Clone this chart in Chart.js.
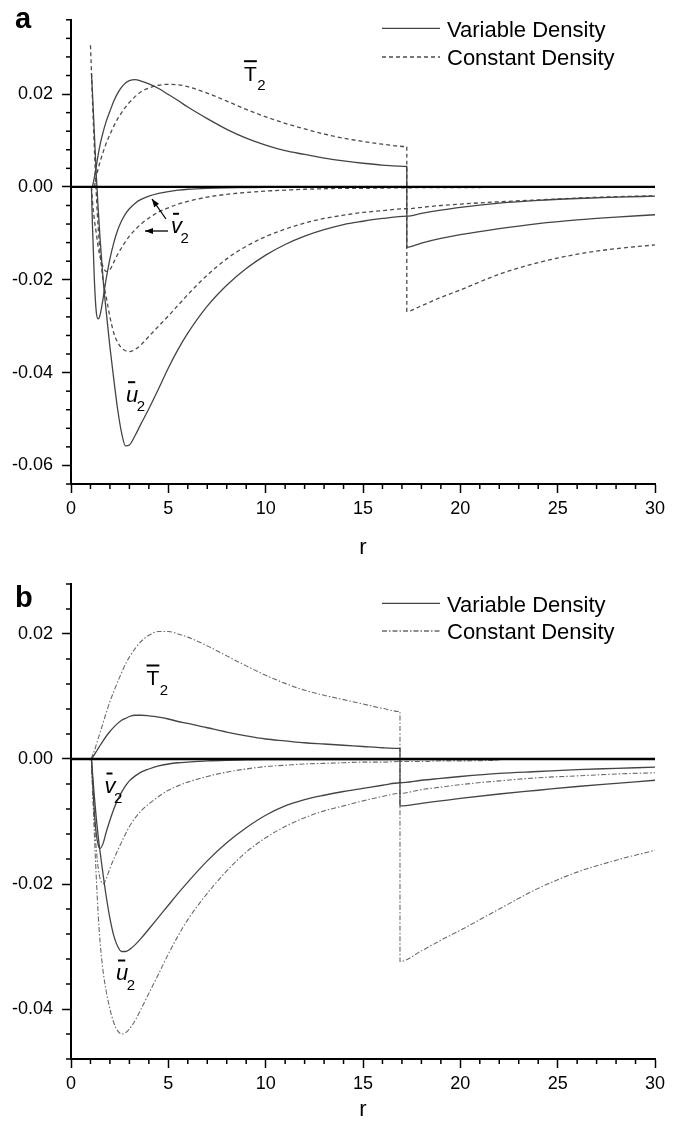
<!DOCTYPE html>
<html>
<head>
<meta charset="utf-8">
<title>Second-order profiles</title>
<style>
  body { margin: 0; background: #fff; }
  canvas { position: absolute; left: 0; }
  #panelA { top: 0; }
  #panelB { top: 560px; }
</style>
<script src="https://cdn.jsdelivr.net/npm/chart.js"></script>
</head>
<body>
<canvas id="panelA" width="680" height="560"></canvas>
<canvas id="panelB" width="680" height="566"></canvas>
<script>
// radial stations, the repeated value is the shock position
var rA = [1.0, 1.05, 1.1, 1.2, 1.3, 1.4, 1.5, 1.65, 1.8, 2.0, 2.2, 2.4, 2.6, 2.8, 3.0, 3.3, 3.6, 4.0, 4.5, 5.0,
          5.5, 6, 7, 8, 9, 10, 11, 12, 13, 14, 15, 16, 17.25, 17.25, 18, 19, 20, 22, 24, 26, 28, 30];
var rB = [1.0, 1.05, 1.1, 1.2, 1.3, 1.4, 1.5, 1.65, 1.8, 2.0, 2.2, 2.4, 2.6, 2.8, 3.0, 3.3, 3.6, 4.0, 4.5, 5.0,
          5.5, 6, 7, 8, 9, 10, 11, 12, 13, 14, 15, 16, 16.9, 16.9, 18, 19, 20, 22, 24, 26, 28, 30];

// panel a - variable density (solid)
var aU2Var = [null, 0.0245, 0.0205, 0.0115, 0.0025, -0.005, -0.0115, -0.020, -0.0265, -0.0345, -0.0415, -0.048, -0.053, -0.0558, -0.0556, -0.0535, -0.051, -0.0478, -0.0435, -0.039,
              -0.035, -0.0315, -0.0257, -0.0212, -0.0176, -0.0147, -0.0124, -0.0106, -0.0092, -0.0081, -0.0074, -0.0068, -0.0063, -0.0063, -0.0057, -0.005, -0.0044, -0.0035, -0.0029, -0.0025, -0.0022, -0.002];
var aT2Var = [null, null, 0.0, 0.002, 0.0045, 0.007, 0.0092, 0.0118, 0.014, 0.0163, 0.0185, 0.0202, 0.0215, 0.0224, 0.0229, 0.0231, 0.0228, 0.0222, 0.0212, 0.0199,
              0.0186, 0.0172, 0.0147, 0.0124, 0.0105, 0.009, 0.0078, 0.007, 0.0062, 0.0056, 0.0051, 0.0047, 0.0044, -0.013, -0.0121, -0.0111, -0.0103, -0.009, -0.0079, -0.0071, -0.0065, -0.006];
var aV2Var = [null, 0.0, -0.008, -0.02, -0.027, -0.0284, -0.0275, -0.024, -0.02, -0.0155, -0.012, -0.0093, -0.0073, -0.0058, -0.0047, -0.0035, -0.0027, -0.002, -0.0014, -0.001,
              -0.0007, -0.0005, -0.0003, -0.0002, -0.00015, -0.0001, -0.0001, -0.0001, -0.0001, -0.0001, -0.0001, -0.0001, -0.0001, -0.0001, -0.0001, -0.0001, -0.0001, -0.0001, -0.0001, -0.0001, null, null];
// panel a - constant density (dashed)
var aU2Con = [0.0305, 0.025, 0.019, 0.0085, -0.0015, -0.009, -0.0145, -0.02, -0.0235, -0.028, -0.0315, -0.0335, -0.0347, -0.0353, -0.0355, -0.035, -0.034, -0.0322, -0.03, -0.0278,
              -0.0255, -0.0232, -0.019, -0.0155, -0.0128, -0.0107, -0.0091, -0.0078, -0.0068, -0.0061, -0.0055, -0.0051, -0.0047, -0.0047, -0.0044, -0.004, -0.0037, -0.0032, -0.0028, -0.0024, -0.0021, -0.0019];
var aT2Con = [null, null, null, 0.0, 0.0022, 0.004, 0.0055, 0.0075, 0.0093, 0.0113, 0.0131, 0.0147, 0.016, 0.0172, 0.0182, 0.0195, 0.0205, 0.0213, 0.0219, 0.0221,
              0.022, 0.0216, 0.0202, 0.0185, 0.0167, 0.0151, 0.0137, 0.0125, 0.0114, 0.0105, 0.0098, 0.0092, 0.0087, -0.0268, -0.0256, -0.0238, -0.0222, -0.0188, -0.0163, -0.0145, -0.0133, -0.0125];
var aV2Con = [null, 0.0, -0.003, -0.007, -0.01, -0.013, -0.0152, -0.0172, -0.0182, -0.0178, -0.0162, -0.0145, -0.0131, -0.0118, -0.0106, -0.0092, -0.008, -0.0067, -0.0054, -0.0045,
              -0.0037, -0.0031, -0.0022, -0.0016, -0.0012, -0.0009, -0.0007, -0.0005, -0.0004, -0.0003, -0.0003, -0.00025, -0.0002, -0.0002, -0.00015, -0.00015, -0.00015, -0.0001, -0.0001, null, null, null];

// panel b - variable density (solid)
var bU2Var = [null, 0.0, -0.002, -0.006, -0.0095, -0.0125, -0.015, -0.0185, -0.0218, -0.0255, -0.0283, -0.03, -0.0308, -0.0308, -0.0305, -0.0297, -0.0287, -0.0272, -0.0253, -0.0234,
              -0.0215, -0.0197, -0.0163, -0.0134, -0.011, -0.009, -0.0075, -0.0065, -0.0058, -0.0052, -0.0047, -0.0042, -0.0038, -0.0038, -0.0034, -0.0031, -0.0028, -0.0023, -0.002, -0.0017, -0.0015, -0.0013];
var bT2Var = [null, 0.0, 0.0002, 0.0007, 0.0012, 0.0017, 0.0022, 0.0029, 0.0036, 0.0044, 0.0051, 0.0057, 0.0062, 0.0065, 0.0068, 0.007, 0.007, 0.0069, 0.0067, 0.0064,
              0.006, 0.0057, 0.005, 0.0043, 0.0037, 0.0032, 0.0029, 0.0026, 0.0024, 0.0022, 0.002, 0.0018, 0.0017, -0.0075, -0.0071, -0.0067, -0.0063, -0.0056, -0.005, -0.0044, -0.0039, -0.0034];
var bV2Var = [null, 0.0, -0.003, -0.0085, -0.012, -0.0138, -0.0143, -0.0135, -0.0118, -0.0098, -0.008, -0.0065, -0.0053, -0.0043, -0.0035, -0.0027, -0.0021, -0.0016, -0.0011, -0.0008,
              -0.0006, -0.0005, -0.0003, -0.0002, -0.00015, -0.0001, -0.0001, -0.0001, -0.0001, -0.0001, -0.0001, -0.0001, -0.0001, -0.0001, -0.0001, -0.0001, -0.0001, -0.0001, null, null, null, null];
// panel b - constant density (dash-dot)
var bU2Con = [null, 0.0, -0.004, -0.012, -0.019, -0.025, -0.0295, -0.034, -0.037, -0.04, -0.0422, -0.0435, -0.044, -0.0438, -0.0432, -0.0418, -0.04, -0.0375, -0.0344, -0.0312,
              -0.0283, -0.0257, -0.0215, -0.0179, -0.0149, -0.0126, -0.0108, -0.0094, -0.0083, -0.0075, -0.0067, -0.006, -0.0055, -0.0055, -0.0049, -0.0045, -0.0041, -0.0035, -0.003, -0.0027, -0.0024, -0.0022];
var bT2Con = [null, 0.0, 0.0006, 0.0013, 0.0023, 0.0033, 0.0043, 0.0058, 0.0073, 0.0092, 0.0108, 0.0124, 0.0138, 0.0152, 0.0163, 0.0177, 0.0188, 0.0198, 0.0204, 0.0204,
              0.02, 0.0195, 0.0181, 0.0165, 0.0149, 0.0134, 0.0121, 0.011, 0.0102, 0.0095, 0.0088, 0.0081, 0.0076, -0.0324, -0.0307, -0.029, -0.0274, -0.024, -0.0207, -0.0181, -0.0162, -0.0146];
var bV2Con = [null, 0.0, -0.004, -0.01, -0.0145, -0.0175, -0.0192, -0.02, -0.0192, -0.0175, -0.016, -0.0146, -0.0133, -0.012, -0.0108, -0.0094, -0.0083, -0.0072, -0.006, -0.005,
              -0.0043, -0.0037, -0.0028, -0.0021, -0.0016, -0.0012, -0.001, -0.0008, -0.0007, -0.0006, -0.0005, -0.0005, -0.0004, -0.0004, -0.0004, -0.0003, -0.0003, -0.0002, null, null, null, null];

var legendLabels = ['Variable Density', 'Constant Density'];

var FONT = '"Liberation Sans", Arial, Helvetica, sans-serif';
var DASH_A = [4, 3];
var DASH_B = [5, 2, 1.5, 2];

function series(rs, vals) {
    return rs.map(function (r, i) { return { x: r, y: vals[i] }; })
             .filter(function (p) { return p.y !== null; });
}

function curve(rs, vals, color, width, dash) {
    return {
        data: series(rs, vals),
        borderColor: color,
        borderWidth: width,
        borderDash: dash,
        pointRadius: 0,
        fill: false,
        cubicInterpolationMode: 'monotone'
    };
}

function zeroLine() {
    return { data: [{ x: 0, y: 0 }, { x: 30, y: 0 }], borderColor: '#000', borderWidth: 2.4, pointRadius: 0 };
}

function isMajorY(v) {
    return Math.abs(v / 0.02 - Math.round(v / 0.02)) < 1e-6;
}

function axes(yMin, yMax, xHeight, titlePad) {
    return {
        x: {
            type: 'linear', min: 0, max: 30,
            ticks: {
                stepSize: 1, autoSkip: false, maxRotation: 0, padding: 5, color: '#000',
                font: { family: FONT, size: 18 },
                callback: function (v) { return v % 5 === 0 ? String(v) : ''; }
            },
            grid: {
                drawOnChartArea: false, tickLength: 9, tickWidth: 1.5,
                tickColor: function (c) { return c.tick && c.tick.value % 5 === 0 ? '#000' : 'rgba(0,0,0,0)'; }
            },
            border: { color: '#000', width: 2 },
            title: { display: true, text: 'r', color: '#000', font: { family: FONT, size: 22, lineHeight: 1 }, padding: { top: 0, bottom: titlePad } },
            afterFit: function (s) { s.height = xHeight; }
        },
        y: {
            type: 'linear', min: yMin, max: yMax,
            ticks: {
                stepSize: 0.004, autoSkip: false, padding: 9, color: '#000',
                font: { family: FONT, size: 18 },
                callback: function (v) {
                    if (!isMajorY(v)) return '';
                    return Math.abs(v) < 1e-9 ? '0.00' : v.toFixed(2);
                }
            },
            grid: {
                drawOnChartArea: false, tickLength: 9, tickWidth: 1.5,
                tickColor: function (c) { return c.tick && isMajorY(c.tick.value) ? '#000' : 'rgba(0,0,0,0)'; }
            },
            border: { color: '#000', width: 2 },
            afterFit: function (s) { s.width = 71; }
        }
    };
}

// overbarred symbol with subscript 2
function symbol(ctx, s) {
    ctx.font = (s.italic ? 'italic ' : '') + s.size + 'px ' + FONT;
    ctx.textAlign = 'left';
    ctx.textBaseline = 'alphabetic';
    ctx.fillText(s.ch, s.x, s.base);
    var w = ctx.measureText(s.ch).width;
    ctx.lineWidth = 2;
    ctx.beginPath();
    if (s.italic) { ctx.moveTo(s.x + 2, s.base - 19.5); ctx.lineTo(s.x + w - 3, s.base - 19.5); }
    else { ctx.moveTo(s.x, s.base - 19.5); ctx.lineTo(s.x + w, s.base - 19.5); }
    ctx.stroke();
    ctx.font = '15px ' + FONT;
    ctx.fillText('2', s.x + w + (s.italic ? -1.5 : 0.5), s.base + 9.5);
}

function arrow(ctx, x0, y0, x1, y1) {
    var a = Math.atan2(y1 - y0, x1 - x0);
    ctx.lineWidth = 1.3;
    ctx.beginPath(); ctx.moveTo(x0, y0); ctx.lineTo(x1, y1); ctx.stroke();
    ctx.beginPath();
    ctx.moveTo(x1, y1);
    ctx.lineTo(x1 - 8 * Math.cos(a) + 3 * Math.sin(a), y1 - 8 * Math.sin(a) - 3 * Math.cos(a));
    ctx.lineTo(x1 - 8 * Math.cos(a) - 3 * Math.sin(a), y1 - 8 * Math.sin(a) + 3 * Math.cos(a));
    ctx.closePath(); ctx.fill();
}

function decor(cfg) {
    return {
        id: 'decor',
        afterDraw: function (chart) {
            var ctx = chart.ctx, xs = chart.scales.x, ys = chart.scales.y;
            ctx.save();
            // minor ticks
            ctx.strokeStyle = '#000';
            ctx.lineWidth = 1.5;
            xs.ticks.forEach(function (t) {
                if (t.value % 5 === 0) return;
                var px = xs.getPixelForValue(t.value);
                ctx.beginPath(); ctx.moveTo(px, xs.top); ctx.lineTo(px, xs.top + 5); ctx.stroke();
            });
            ys.ticks.forEach(function (t) {
                if (isMajorY(t.value)) return;
                var py = ys.getPixelForValue(t.value);
                ctx.beginPath(); ctx.moveTo(ys.right - 5, py); ctx.lineTo(ys.right, py); ctx.stroke();
            });
            // legend
            ctx.font = '22px ' + FONT;
            ctx.textAlign = 'left';
            ctx.textBaseline = 'alphabetic';
            cfg.legendRows.forEach(function (row, i) {
                ctx.strokeStyle = row.color;
                ctx.lineWidth = 1.3;
                ctx.setLineDash(row.dash);
                ctx.beginPath(); ctx.moveTo(382, row.y); ctx.lineTo(440, row.y); ctx.stroke();
                ctx.setLineDash([]);
                ctx.fillStyle = '#000';
                ctx.fillText(legendLabels[i], 447, row.y + 8.3);
            });
            // panel letter
            ctx.fillStyle = '#000';
            ctx.strokeStyle = '#000';
            ctx.font = 'bold 29px ' + FONT;
            ctx.fillText(cfg.letter.text, cfg.letter.x, cfg.letter.base);
            cfg.symbols.forEach(function (s) { symbol(ctx, s); });
            (cfg.arrows || []).forEach(function (a) { arrow(ctx, a[0], a[1], a[2], a[3]); });
            ctx.restore();
        }
    };
}

function makeChart(id, datasets, yMin, yMax, padTop, xHeight, titlePad, cfg) {
    return new Chart(document.getElementById(id), {
        type: 'line',
        data: { datasets: datasets },
        options: {
            responsive: false,
            animation: false,
            devicePixelRatio: 1,
            layout: { padding: { left: 0, right: 25, top: padTop, bottom: 0 } },
            plugins: { legend: { display: false }, tooltip: { enabled: false } },
            scales: axes(yMin, yMax, xHeight, titlePad)
        },
        plugins: [decor(cfg)]
    });
}

var solidA = '#444', dashA = '#4c4c4c';
makeChart('panelA', [
    zeroLine(),
    curve(rA, aU2Var, solidA, 1.3, []),
    curve(rA, aT2Var, solidA, 1.3, []),
    curve(rA, aV2Var, solidA, 1.3, []),
    curve(rA, aU2Con, dashA, 1.3, DASH_A),
    curve(rA, aT2Con, dashA, 1.3, DASH_A),
    curve(rA, aV2Con, dashA, 1.3, DASH_A)
], -0.064, 0.036, 10, 76, 1, {
    letter: { text: 'a', x: 15, base: 28 },
    legendRows: [{ y: 28.3, color: solidA, dash: [] }, { y: 57, color: dashA, dash: DASH_A }],
    symbols: [
        { ch: 'T', x: 244, base: 80.7, size: 21, italic: false },
        { ch: 'v', x: 171, base: 233.3, size: 22, italic: true },
        { ch: 'u', x: 126, base: 401.7, size: 22, italic: true }
    ],
    arrows: [[166, 219, 152, 199], [168, 231, 145, 231]]
});

var solidB = '#444', dotB = '#6a6a6a';
makeChart('panelB', [
    zeroLine(),
    curve(rB, bU2Var, solidB, 1.3, []),
    curve(rB, bT2Var, solidB, 1.3, []),
    curve(rB, bV2Var, solidB, 1.3, []),
    curve(rB, bU2Con, dotB, 1.1, DASH_B),
    curve(rB, bT2Con, dotB, 1.1, DASH_B),
    curve(rB, bV2Con, dotB, 1.1, DASH_B)
], -0.048, 0.028, 24, 67, 5, {
    letter: { text: 'b', x: 15, base: 47 },
    legendRows: [{ y: 43.3, color: solidB, dash: [] }, { y: 71, color: dotB, dash: DASH_B }],
    symbols: [
        { ch: 'T', x: 146.5, base: 125, size: 21, italic: false },
        { ch: 'v', x: 104.5, base: 233, size: 22, italic: true },
        { ch: 'u', x: 116, base: 420, size: 22, italic: true }
    ]
});
</script>
</body>
</html>
